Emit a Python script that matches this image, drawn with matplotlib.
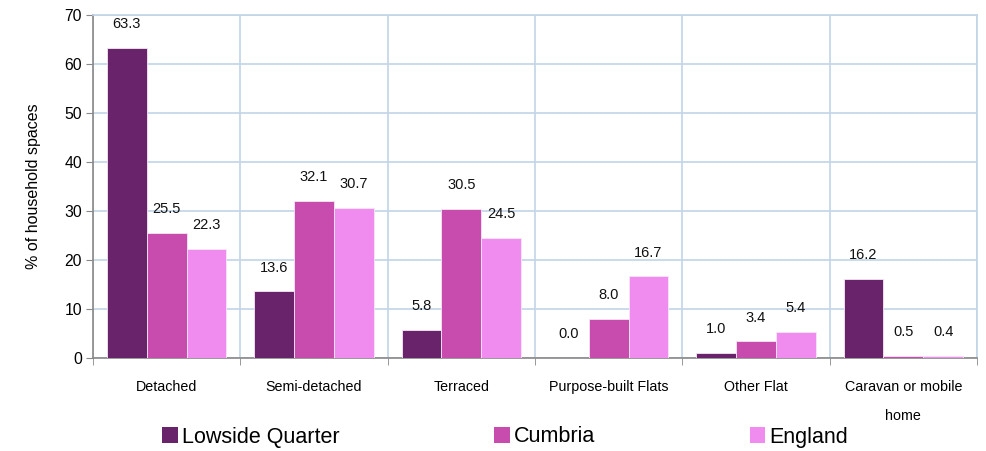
import matplotlib
matplotlib.use("Agg")
import matplotlib.pyplot as plt
from matplotlib.patches import Patch
import numpy as np

plt.rcParams['font.family'] = ['Liberation Sans', 'DejaVu Sans']

categories = ["Detached", "Semi-detached", "Terraced", "Purpose-built Flats", "Other Flat", "Caravan or mobile\nhome"]
series_names = ["Lowside Quarter", "Cumbria", "England"]
lowside = [63.3, 13.6, 5.8, 0.0, 1.0, 16.2]
cumbria = [25.5, 32.1, 30.5, 8.0, 3.4, 0.5]
england = [22.3, 30.7, 24.5, 16.7, 5.4, 0.4]
colors = ["#69236A", "#C84BAE", "#F08CEF"]
yticks = [0, 10, 20, 30, 40, 50, 60, 70]

fig = plt.figure(figsize=(9.87, 4.51), dpi=100)
ax = fig.add_axes([93/987, 93/451, (977-93)/987, (358-15)/451])

x = np.arange(len(categories))
w = 0.27
grid_c = "#C2D4E8"
for k, (vals, c) in enumerate(zip([lowside, cumbria, england], colors)):
    ax.bar(x + (k - 1) * w, vals, width=w, color=c, edgecolor="#F4E8F4", linewidth=0.6, zorder=3)
    for xi, v in zip(x + (k - 1) * w, vals):
        ax.annotate(f"{v:.1f}", (xi, v), xytext=(0, 17), textcoords="offset points",
                    ha="center", va="center", fontsize=10.5, color="#111111", zorder=4)

ax.set_xlim(-0.5, len(categories) - 0.5)
ax.set_ylim(0, 70)
ax.set_yticks(yticks)
ax.tick_params(axis="y", labelsize=11.3, length=5, color="#888888", direction="out", pad=3)
ax.set_xticks(x)
ax.set_xticklabels(categories, fontsize=10.3, linespacing=2.3, va="top")
ax.tick_params(axis="x", which="major", length=0, pad=16)
ax.set_xticks(np.arange(-0.5, len(categories), 1.0), minor=True)
ax.tick_params(axis="x", which="minor", length=5, color="#888888", direction="out")

ax.grid(axis="y", which="major", color=grid_c, linewidth=1.2, zorder=0)
ax.grid(axis="x", which="minor", color=grid_c, linewidth=1.2, zorder=0)
ax.set_axisbelow(True)
for s in ["top", "right"]:
    ax.spines[s].set_color(grid_c)
    ax.spines[s].set_linewidth(1.2)
for s in ["left", "bottom"]:
    ax.spines[s].set_color("#888888")
    ax.spines[s].set_linewidth(1.2)

ax.set_ylabel("% of household spaces", fontsize=11.5, labelpad=17)

handles = [Patch(facecolor=c, edgecolor="none") for c in colors]
fig.legend(handles, series_names, loc="center", bbox_to_anchor=(0.512, 1 - 437/451), ncol=3,
           frameon=False, fontsize=15.5, handlelength=0.7, handleheight=0.7, handletextpad=0.2,
           columnspacing=7.2, borderpad=0)

fig.savefig("out.png", dpi=100)
